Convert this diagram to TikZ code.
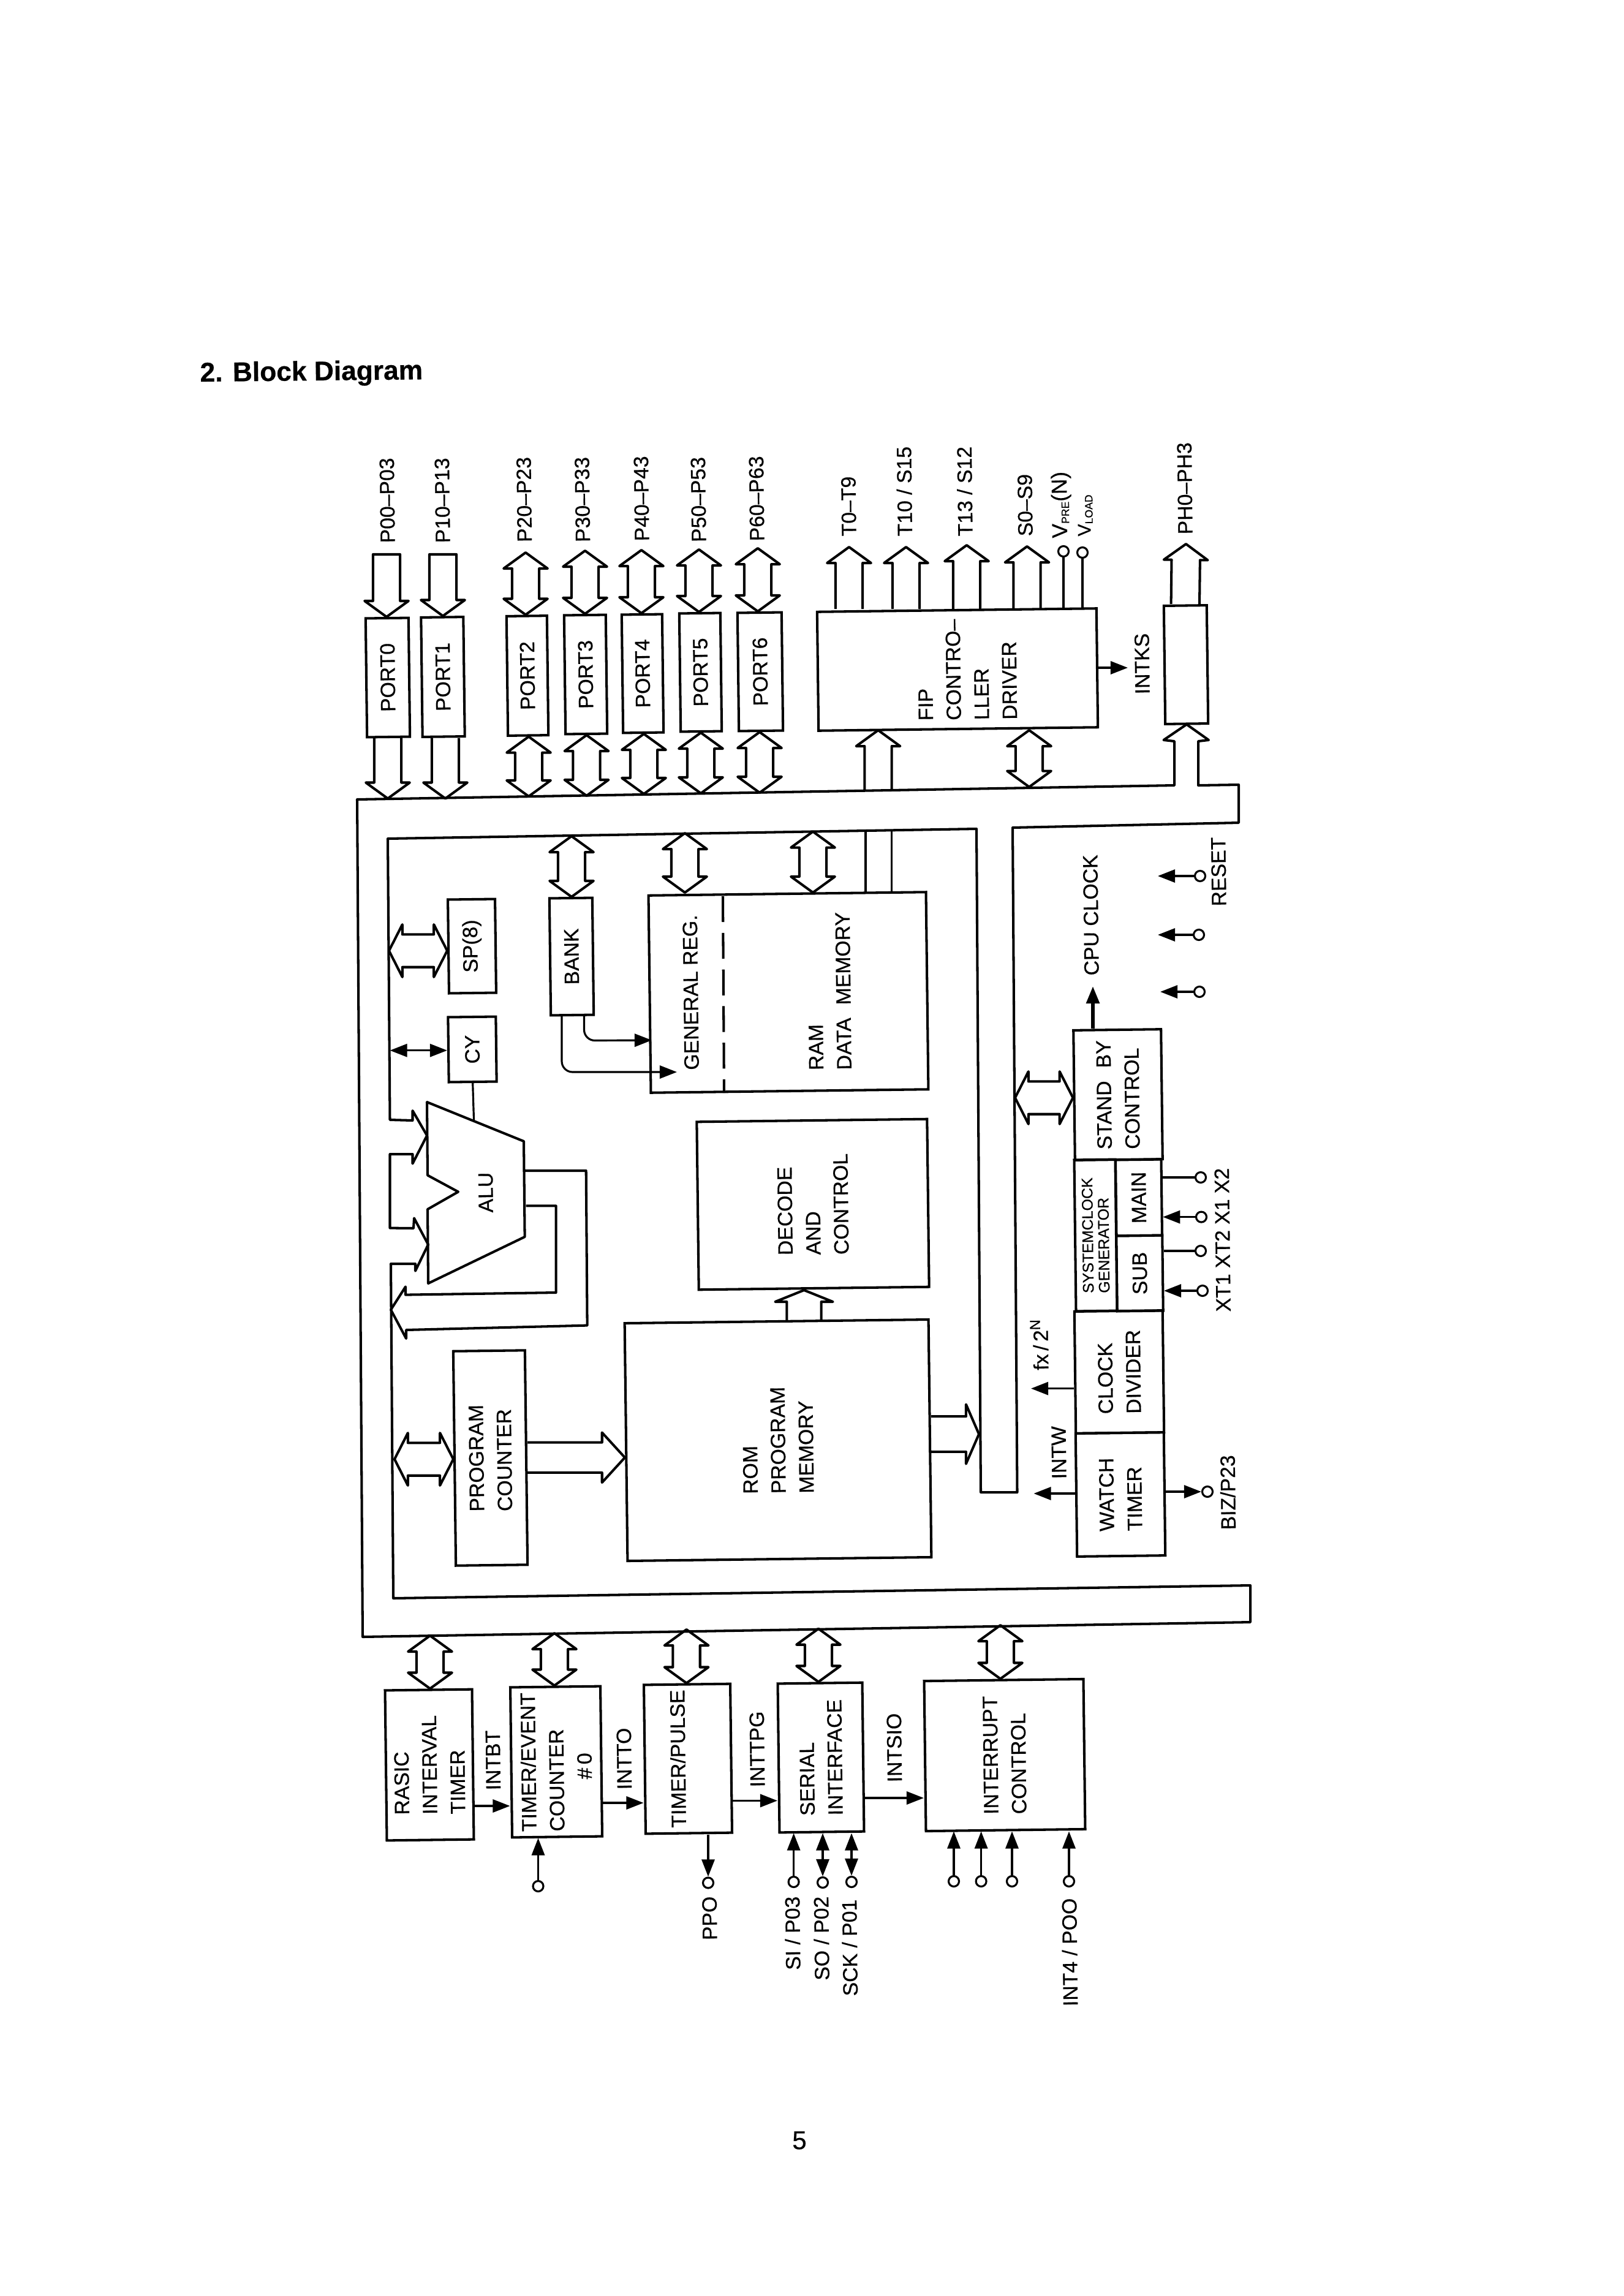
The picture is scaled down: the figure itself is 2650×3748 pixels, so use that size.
\documentclass[tikz,border=0pt]{standalone}
\usepackage{fontspec}
\setmainfont{Liberation Sans}[FakeBold=0.5]
\usetikzlibrary{arrows.meta,calc}

\tikzset{
  bussw/.store in=\bussw, bushw/.store in=\bushw, bushl/.store in=\bushl,
  bussw=6.3pt, bushw=10.2pt, bushl=7.4pt,
  busline/.style={line width=1.15pt,line join=round},
  widebus/.style={bussw=7.6pt,bushw=12.2pt,bushl=6.2pt},
  box/.style 2 args={draw,line width=1.15pt,rotate=90.7,inner sep=0pt,align=left,
    font=\fontsize{9.6}{13}\selectfont,
    minimum width=#1*0.01cm,minimum height=#2*0.01cm},
  lbl/.style={rotate=90.7,inner sep=0pt,align=left,font=\fontsize{9.6}{13}\selectfont},
  termcirc/.style={circle,draw,line width=0.9pt,inner sep=0pt,minimum size=0.17cm},
  wire/.style={line width=0.9pt},
  sig/.style={line width=0.9pt,-{Triangle[length=8pt,width=6pt]}},
  sigboth/.style={line width=0.9pt,{Triangle[length=8pt,width=6pt]}-{Triangle[length=8pt,width=6pt]}}
}

% hollow bus arrows, from #2 to #3
\newcommand{\busboth}[3][]{\draw[busline,#1] let \p1=($(#3)-(#2)$),\n1={atan2(\y1,\x1)},\n2={veclen(\x1,\y1)*1pt} in
  [shift={(#2)},rotate=\n1] (0pt,0pt) -- (\bushl,\bushw) -- (\bushl,\bussw) -- ({\n2-\bushl},\bussw) -- ({\n2-\bushl},\bushw)
  -- (\n2,0pt) -- ({\n2-\bushl},-\bushw) -- ({\n2-\bushl},-\bussw) -- (\bushl,-\bussw) -- (\bushl,-\bushw) -- cycle;}
\newcommand{\busone}[3][]{\draw[busline,#1] let \p1=($(#3)-(#2)$),\n1={atan2(\y1,\x1)},\n2={veclen(\x1,\y1)*1pt} in
  [shift={(#2)},rotate=\n1] (0pt,\bussw) -- ({\n2-\bushl},\bussw) -- ({\n2-\bushl},\bushw)
  -- (\n2,0pt) -- ({\n2-\bushl},-\bushw) -- ({\n2-\bushl},-\bussw) -- (0pt,-\bussw);}
\newcommand{\buscap}[3][]{\draw[busline,#1] let \p1=($(#3)-(#2)$),\n1={atan2(\y1,\x1)},\n2={veclen(\x1,\y1)*1pt} in
  [shift={(#2)},rotate=\n1] (0pt,\bussw) -- ({\n2-\bushl},\bussw) -- ({\n2-\bushl},\bushw)
  -- (\n2,0pt) -- ({\n2-\bushl},-\bushw) -- ({\n2-\bushl},-\bussw) -- (0pt,-\bussw) -- cycle;}

\begin{document}
\begin{tikzpicture}[x=0.01cm,y=-0.01cm]
 \useasboundingbox (0,0) rectangle (2650,3748);

 \node[inner sep=0pt,anchor=base west,rotate=0.6,font=\fontsize{12.6}{16}\selectfont\bfseries] (title) at (326,623) {2. Block Diagram};
 \node[inner sep=0pt,font=\fontsize{12}{14}\selectfont] (pageno) at (1305,3494) {5};

 % main bus
 \draw[busline] (583,1305) -- (1917,1282) -- (1917,1210) -- (1899.5,1208) -- (1937,1182.5) -- (1973,1208)
  -- (1956,1210) -- (1956,1282) -- (2022,1281) -- (2022,1343) -- (1653,1351) -- (1660.5,2436) -- (1601,2436)
  -- (1594,1353) -- (633,1369) -- (636.5,1828) -- (673.5,1829) -- (673.5,1813) -- (697,1853.6) -- (673.5,1899.5)
  -- (673.5,1884) -- (636.5,1884) -- (636.5,2004.6) -- (675,2005) -- (676,1988.5) -- (699,2031.6) -- (678,2074.6)
  -- (678,2063) -- (638,2063) -- (642,2609) -- (2041,2588) -- (2041,2648) -- (592,2672) -- cycle;

 % ports
 \node[box={194}{70}] (port0) at (633,1106) {PORT0};
 \node[box={195}{69}] (port1) at (723,1105) {PORT1};
 \node[box={195}{66}] (port2) at (861,1103) {PORT2};
 \node[box={194}{68}] (port3) at (956,1101) {PORT3};
 \node[box={193}{66}] (port4) at (1049,1099.5) {PORT4};
 \node[box={193}{67}] (port5) at (1143.5,1097.5) {PORT5};
 \node[box={193}{72}] (port6) at (1241,1096.5) {PORT6};

 \path coordinate (tp0) at (631,905)
  coordinate (tp1) at (723,905)
  coordinate (tp2) at (858,902)
  coordinate (tp3) at (955,899)
  coordinate (tp4) at (1047,898)
  coordinate (tp5) at (1141,897)
  coordinate (tp6) at (1237,895)
  coordinate (bp0) at (633,1303.5)
  coordinate (bp1) at (727,1303.5)
  coordinate (bp2) at (863,1300)
  coordinate (bp3) at (957.5,1299)
  coordinate (bp4) at (1051,1296)
  coordinate (bp5) at (1144,1295)
  coordinate (bp6) at (1240,1294);

 \buscap{tp0}{tp0 |- port0.east}
 \buscap{tp1}{tp1 |- port1.east}
 \busboth{tp2}{tp2 |- port2.east}
 \busboth{tp3}{tp3 |- port3.east}
 \busboth{tp4}{tp4 |- port4.east}
 \busboth{tp5}{tp5 |- port5.east}
 \busboth{tp6}{tp6 |- port6.east}
 \busone{bp0 |- port0.west}{bp0}
 \busone{bp1 |- port1.west}{bp1}
 \busboth{bp2 |- port2.west}{bp2}
 \busboth{bp3 |- port3.west}{bp3}
 \busboth{bp4 |- port4.west}{bp4}
 \busboth{bp5 |- port5.west}{bp5}
 \busboth{bp6 |- port6.west}{bp6}

 \node[lbl,anchor=west] (lp0) at (633,887) {P00--P03};
 \node[lbl,anchor=west] (lp1) at (723,887) {P10--P13};
 \node[lbl,anchor=west] (lp2) at (856.5,885.6) {P20--P23};
 \node[lbl,anchor=west] (lp3) at (951.6,885.6) {P30--P33};
 \node[lbl,anchor=west] (lp4) at (1048,884) {P40--P43};
 \node[lbl,anchor=west] (lp5) at (1141,885.6) {P50--P53};
 \node[lbl,anchor=west] (lp6) at (1236,884) {P60--P63};

 % fip
 \node[box={194}{456}] (fip) at (1563,1093) {};
 \node[lbl] (fipt) at (1579,1093) {FIP\\CONTRO--\\LLER\\DRIVER};
 \node[box={193}{70}] (phbox) at (1936,1085) {};

 \path coordinate (at0) at (1386,893)
  coordinate (at1) at (1479,893)
  coordinate (at2) at (1578,890)
  coordinate (as0) at (1676.5,892)
  coordinate (infip) at (1433.5,1290)
  coordinate (bfip) at (1680,1284.6)
  coordinate (aph) at (1936,888);

 \busone{at0 |- fip.east}{at0}
 \busone{at1 |- fip.east}{at1}
 \busone{at2 |- fip.east}{at2}
 \busone{as0 |- fip.east}{as0}
 \busone{infip}{infip |- fip.west}
 \busboth{bfip}{bfip |- fip.west}
 \busone[bussw=6.6pt]{phbox.east}{aph}

 \node[termcirc] (tvpre) at (1736,900) {};
 \node[termcirc] (tvload) at (1767,902) {};
 \draw[wire] (tvpre) -- (tvpre |- fip.east);
 \draw[wire] (tvload) -- (tvload |- fip.east);

 \node[lbl,anchor=west] (lt0) at (1386,876) {T0--T9};
 \node[lbl,anchor=west] (lt1) at (1477,876) {T10 / S15};
 \node[lbl,anchor=west] (lt2) at (1575.5,876) {T13 / S12};
 \node[lbl,anchor=west] (ls0) at (1674,876) {S0--S9};
 \node[lbl,anchor=west,font=\fontsize{10}{12}\selectfont] (lvpre) at (1733,879) {V\raisebox{-1pt}{\fontsize{5}{6}\selectfont PRE}(N)};
 \node[lbl,anchor=west,font=\fontsize{8.5}{10}\selectfont] (lvload) at (1772,876) {V\raisebox{-1pt}{\fontsize{5}{6}\selectfont LOAD}};
 \node[lbl,anchor=west] (lph) at (1935,873) {PH0--PH3};

 \coordinate (aintks) at (1841,1090);
 \draw[sig] (aintks -| fip.south) -- (aintks);
 \node[lbl,anchor=west] (lintks) at (1865,1134) {INTKS};

 % inner blocks
 \node[box={153}{77}] (sp) at (770.5,1544.5) {SP(8)};
 \node[box={106}{78}] (cy) at (771,1713) {CY};
 \node[box={191}{70}] (bank) at (933,1561.5) {BANK};
 \node[box={322}{453}] (ram) at (1287,1620) {};
 \node[box={274}{376}] (decode) at (1327,1966) {DECODE\\AND\\CONTROL};
 \node[box={388}{496}] (rom) at (1270,2351) {ROM\\PROGRAM\\MEMORY};
 \node[box={350}{117}] (pc) at (800.5,2380) {PROGRAM\\COUNTER};

 \draw[line width=1.15pt,dashed,dash pattern=on 12pt off 5pt] (1180,1463) -- (1182,1784);
 \node[lbl] (lgen) at (1127.6,1620) {GENERAL REG.};
 \node[lbl] (lram) at (1354,1618) {RAM\\DATA\hspace{6pt}MEMORY};

 \path coordinate (tbank) at (933,1365)
  coordinate (tgen) at (1118,1360)
  coordinate (tram) at (1327,1357.5)
  coordinate (lsp) at (635,1552)
  coordinate (lcy) at (636.5,1714.7)
  coordinate (lpc) at (644,2382)
  coordinate (tdec) at (1312.5,2106)
  coordinate (rrom) at (1598,2341)
  coordinate (lstand) at (1657,1792);

 \busboth{tbank}{tbank |- bank.east}
 \busboth{tgen}{tgen |- ram.east}
 \busboth{tram}{tram |- ram.east}
 \busboth[widebus]{lsp}{lsp -| sp.north}
 \busboth[widebus]{lpc}{lpc -| pc.north}
 \busone[bussw=7pt,bushw=11.6pt,bushl=10.6pt]{pc.south}{pc.south -| rom.north}
 \busone[bussw=8.2pt,bushw=13.8pt,bushl=6pt]{rrom -| rom.south}{rrom}
 \busone[bussw=8pt,bushw=13.4pt,bushl=5.4pt]{tdec |- rom.east}{tdec}

 % from the fip bus into ram
 \draw[wire] (1413,1354.5) -- (1413,1455.5);
 \draw[wire] (1455.6,1354) -- (1455.6,1455);

 \draw[sigboth] (lcy) -- (lcy -| cy.north);

 \coordinate (agen) at (1064,1698);
 \coordinate (aram) at (1105,1750);
 \draw[sig,rounded corners=5pt] (953.5,1657) -- (953.5,1698.6) -- (agen);
 \draw[sig,rounded corners=5pt] (917,1657) -- (917,1750) -- (aram);

 % alu
 \path coordinate (AA) at (697,1799)
  coordinate (AB) at (855,1863)
  coordinate (AC) at (856.6,2019)
  coordinate (AD) at (699,2095)
  coordinate (AE) at (698,1974)
  coordinate (AF) at (748,1945.5)
  coordinate (AG) at (698,1918.5);
 \draw[busline] (AA) -- (AB) -- (AC) -- (AD) -- (AE) -- (AF) -- (AG) -- cycle;
 \node[lbl] (lalu) at (793,1946.6) {ALU};
 \draw[wire] (cy.west) -- (773.6,1830.6);

 \draw[busline] (858.5,1968.4) -- (907.6,1968.4) -- (907.6,2110) -- (662,2113.6) -- (662,2100.4) -- (638,2138)
  -- (663,2185) -- (663,2171) -- (958.6,2163.6) -- (956.7,1911) -- (856.6,1911);

 % clock part
 \node[box={212}{143}] (stand) at (1825,1787) {STAND\hspace{6pt}BY\\CONTROL};
 \node[box={247}{67},font=\fontsize{7.1}{7.4}\selectfont] (sysclk) at (1788.5,2016.5) {SYSTEMCLOCK\\GENERATOR};
 \node[box={124}{74.5}] (mainosc) at (1859,1955) {MAIN};
 \node[box={123}{75}] (subosc) at (1860.5,2078.5) {SUB};
 \node[box={199}{144}] (clockdiv) at (1827,2239.5) {CLOCK\\DIVIDER};
 \node[box={201}{144}] (watch) at (1829,2439.5) {WATCH\\TIMER};

 \busboth[widebus]{lstand}{lstand -| stand.north}

 \path coordinate (acpu) at (1784,1610)
  coordinate (ares) at (1890,1430)
  coordinate (ares2) at (1890,1526)
  coordinate (ares3) at (1894,1619)
  coordinate (afx) at (1683,2266.6)
  coordinate (aintw) at (1687.5,2438);

 \draw[sig,line width=1.6pt] (acpu |- stand.east) -- (acpu);
 \node[lbl,anchor=west] (lcpu) at (1782,1593) {CPU CLOCK};

 \node[termcirc] (treset) at (1959,1430) {};
 \node[termcirc] (treset2) at (1957,1526) {};
 \node[termcirc] (treset3) at (1958,1619) {};
 \draw[sig] (treset) -- (ares);
 \draw[sig] (treset2) -- (ares2);
 \draw[sig] (treset3) -- (ares3);
 \node[lbl,anchor=west] (lreset) at (1990,1480) {RESET};

 \node[termcirc] (tx2) at (1960,1922) {};
 \node[termcirc] (tx1) at (1961,1986.6) {};
 \node[termcirc] (txt2) at (1960,2042) {};
 \node[termcirc] (txt1) at (1963,2107) {};
 \draw[wire] (tx2) -- (tx2 -| mainosc.south);
 \draw[sig] (tx1) -- (tx1 -| mainosc.south);
 \draw[wire] (txt2) -- (txt2 -| subosc.south);
 \draw[sig] (txt1) -- (txt1 -| subosc.south);
 \node[lbl,anchor=west] (lxt) at (1997,2142) {XT1 XT2 X1 X2};

 \draw[sig] (afx -| clockdiv.north) -- (afx);
 \draw[sig] (aintw -| watch.north) -- (aintw);
 \node[lbl,anchor=west] (lfx) at (1697,2237.5) {fx\,/\,2\textsuperscript{N}};
 \node[lbl,anchor=west] (lintw) at (1729,2415) {INTW};

 \node[termcirc] (tbiz) at (1971,2435) {};
 \draw[sig] (tbiz -| watch.south) -- (tbiz);
 \node[lbl,anchor=west] (lbiz) at (2005,2498) {BIZ/P23};

 % bottom row
 \node[box={245}{142}] (basic) at (701,2881) {RASIC\\INTERVAL\\TIMER};
 \node[box={245}{147}] (tmevent) at (908,2876) {TIMER/EVENT\\COUNTER\\\hspace*{24pt}\#\,0};
 \node[box={243}{141}] (tmpulse) at (1123,2871) {};
 \node[lbl] (ltmpulse) at (1106.5,2871) {TIMER/PULSE};
 \node[box={243}{138}] (serial) at (1340,2869) {SERIAL\\INTERFACE};
 \node[box={245}{260}] (intctl) at (1640,2865) {INTERRUPT\\CONTROL};

 \path coordinate (bb0) at (702,2670)
  coordinate (bb1) at (905,2666)
  coordinate (bb2) at (1120.6,2660)
  coordinate (bb3) at (1336,2658.7)
  coordinate (bb4) at (1633,2653);
 \busboth{bb0}{bb0 |- basic.east}
 \busboth{bb1}{bb1 |- tmevent.east}
 \busboth{bb2}{bb2 |- tmpulse.east}
 \busboth{bb3}{bb3 |- serial.east}
 \busboth{bb4}{bb4 |- intctl.east}

 \coordinate (yb1) at (0,2948);
 \coordinate (yb2) at (0,2943);
 \coordinate (yb3) at (0,2939.4);
 \coordinate (yb4) at (0,2935);
 \draw[sig] (yb1 -| basic.south) -- (yb1 -| tmevent.north);
 \draw[sig] (yb2 -| tmevent.south) -- (yb2 -| tmpulse.north);
 \draw[sig] (yb3 -| tmpulse.south) -- (yb3 -| serial.north);
 \draw[sig] (yb4 -| serial.south) -- (yb4 -| intctl.north);
 \node[lbl,anchor=west] (lintbt) at (805.5,2923) {INTBT};
 \node[lbl,anchor=west] (lintto) at (1019.5,2922) {INTTO};
 \node[lbl,anchor=west] (linttpg) at (1236.7,2918) {INTTPG};
 \node[lbl,anchor=west] (lintsio) at (1460.6,2910) {INTSIO};

 \node[termcirc] (ttm) at (878.5,3079) {};
 \node[termcirc] (tppo) at (1156,3073.5) {};
 \node[termcirc] (tsi) at (1295.6,3072) {};
 \node[termcirc] (tso) at (1343,3073) {};
 \node[termcirc] (tsck) at (1390,3072) {};
 \node[termcirc] (tia) at (1557,3071) {};
 \node[termcirc] (tib) at (1601.6,3071) {};
 \node[termcirc] (tic) at (1652,3071) {};
 \node[termcirc] (tid) at (1745,3071) {};

 \draw[sig] (ttm) -- (ttm |- tmevent.west);
 \draw[sig] (tppo |- tmpulse.west) -- (tppo);
 \draw[sig] (tsi) -- (tsi |- serial.west);
 \draw[sigboth] (tso) -- (tso |- serial.west);
 \draw[sigboth] (tsck) -- (tsck |- serial.west);
 \draw[sig] (tia) -- (tia |- intctl.west);
 \draw[sig] (tib) -- (tib |- intctl.west);
 \draw[sig] (tic) -- (tic |- intctl.west);
 \draw[sig] (tid) -- (tid |- intctl.west);

 \node[lbl,anchor=east] (lppo) at (1158,3095) {PPO};
 \node[lbl,anchor=east] (lsi) at (1293,3095) {SI / P03};
 \node[lbl,anchor=east] (lso) at (1340,3095) {SO / P02};
 \node[lbl,anchor=east] (lsck) at (1386,3100) {SCK / P01};
 \node[lbl,anchor=east] (lint4) at (1745,3098) {INT4 / POO};

\end{tikzpicture}
\end{document}
